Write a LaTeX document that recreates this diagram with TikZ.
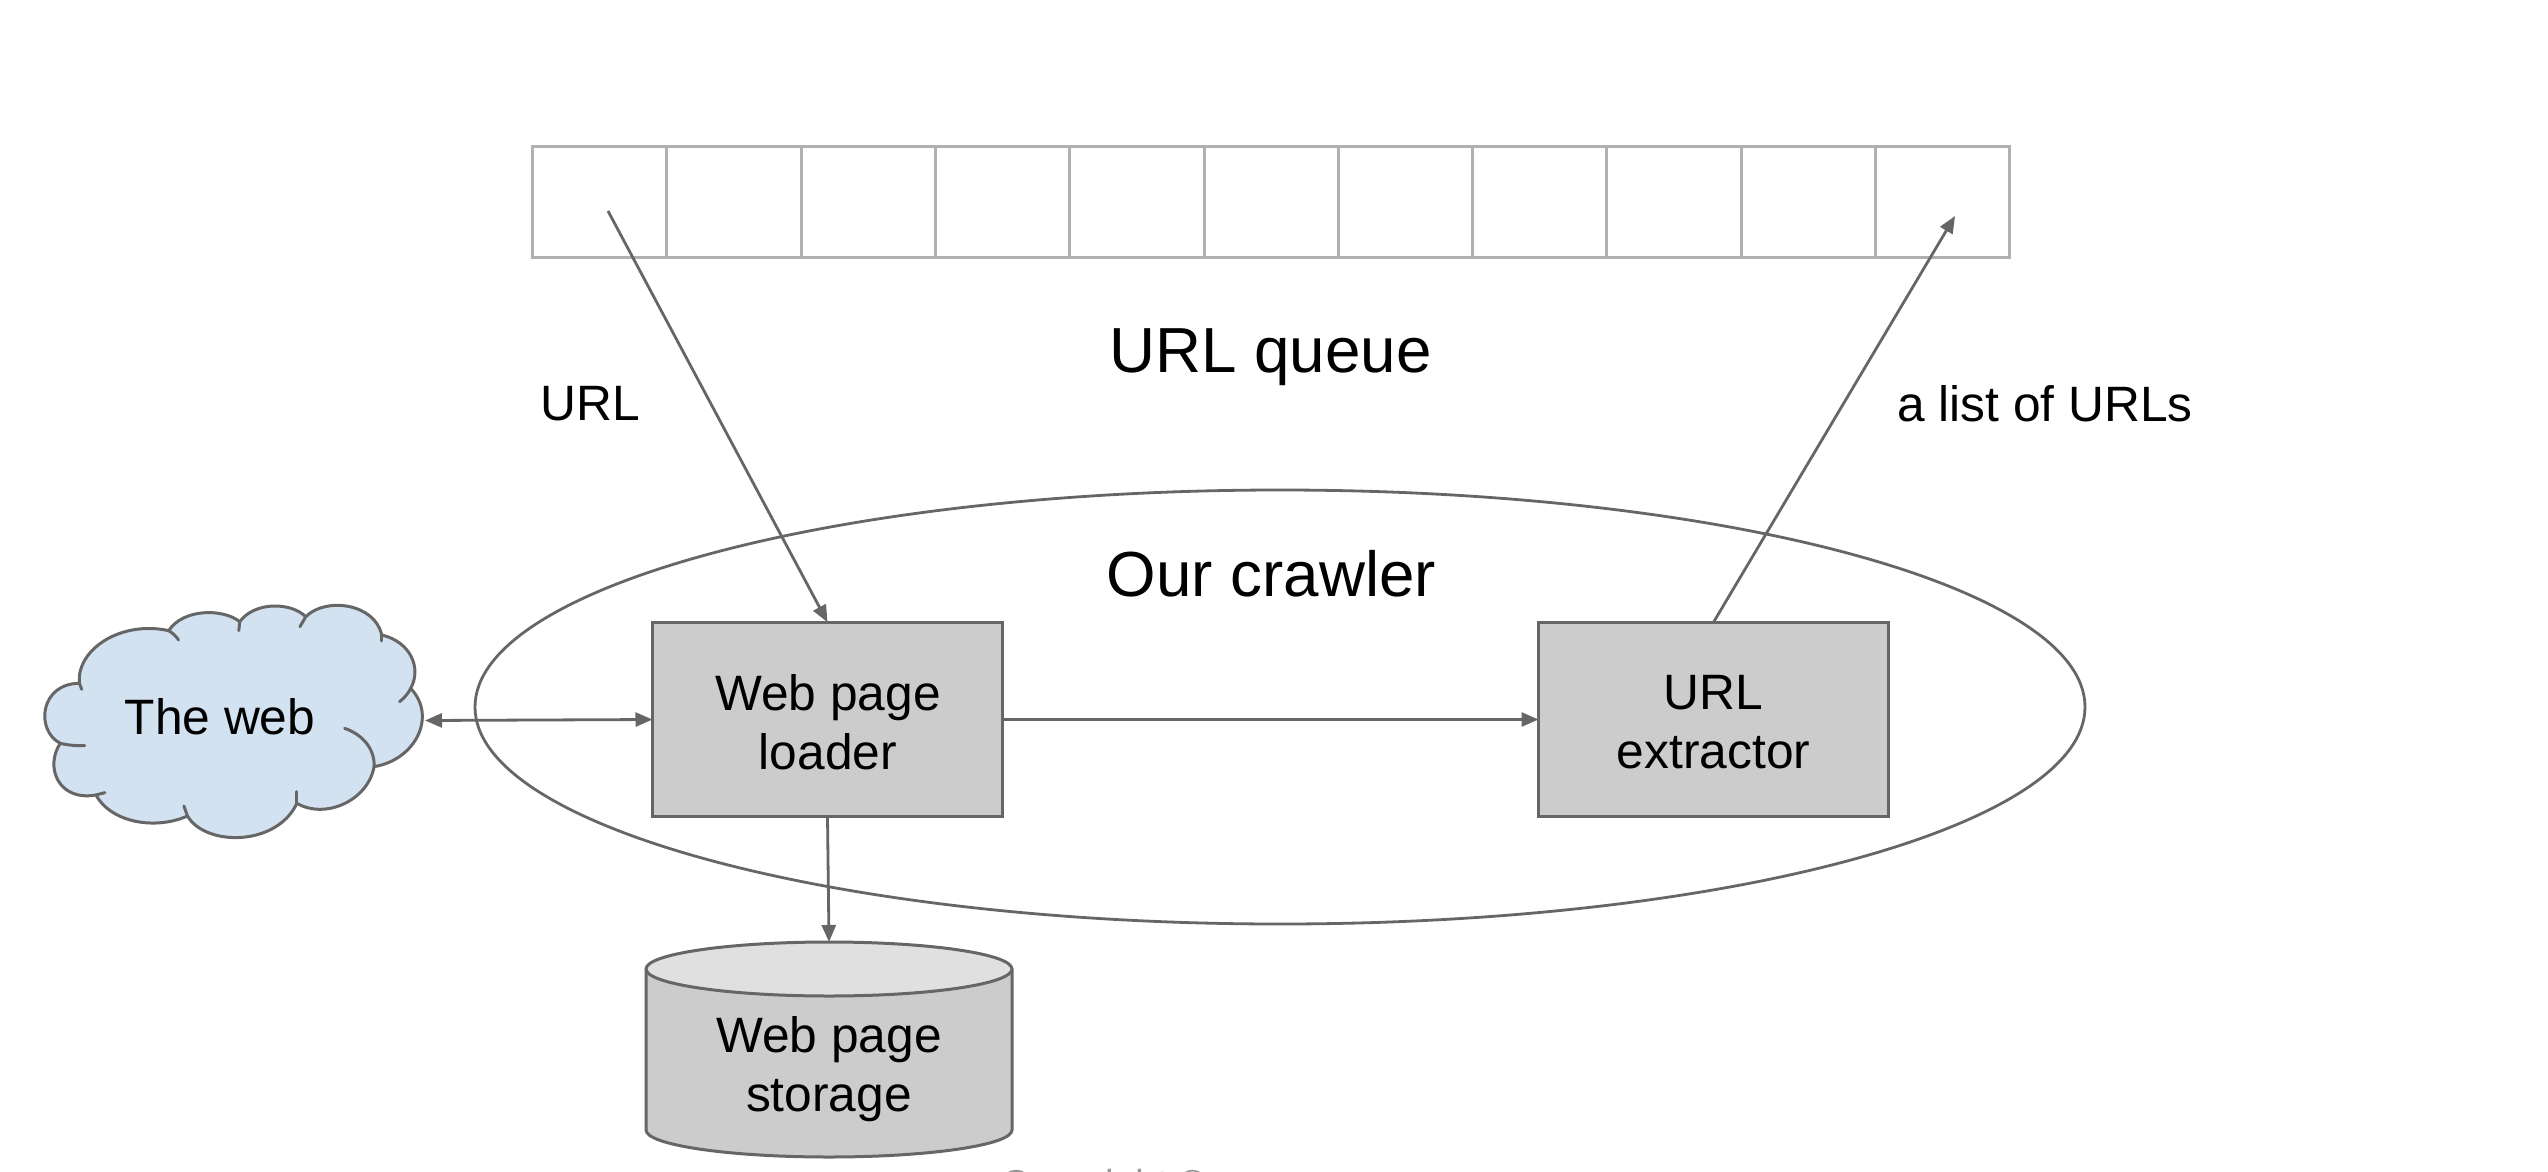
\documentclass[tikz,border=0pt]{standalone}
\usepackage{fontspec}
\setmainfont{Liberation Sans}
\usetikzlibrary{arrows.meta,shapes.geometric}
\definecolor{ln}{HTML}{666666}
\definecolor{qln}{HTML}{B0B0B0}
\definecolor{boxf}{HTML}{CCCCCC}
\definecolor{topf}{HTML}{E0E0E0}
\definecolor{cloudf}{HTML}{D2E2F1}
\definecolor{copyc}{HTML}{999999}
\tikzset{
 cellbox/.style={draw=qln,line width=3pt,minimum width=134.3pt,minimum height=111pt,inner sep=0pt,outer sep=0pt},
 procbox/.style={draw=ln,line width=2.6pt,fill=boxf,minimum width=350pt,minimum height=194.5pt,inner sep=0pt,outer sep=0pt},
 lab/.style={inner sep=0pt,align=center,font=\fontsize{49.7}{58.5}\selectfont},
 biglab/.style={inner sep=0pt,font=\fontsize{63.7}{70}\selectfont},
 conn/.style={draw=ln,line width=2.8pt,-{Triangle[length=17pt,width=14pt,fill=ln]}},
 outl/.style={draw=ln,line width=3pt,line cap=round,line join=round}
}
\begin{document}
\begin{tikzpicture}[x=1pt,y=-1pt]
\useasboundingbox (0,0) rectangle (2548,1172);
% ellipse
\node[draw=ln,line width=2.8pt,ellipse,minimum width=1610pt,minimum height=434pt,inner sep=0pt,outer sep=0pt] (crawler) at (1280,707) {};
% queue
\foreach \i in {1,...,11}{
  \node[cellbox] (cell\i) at ({532.5+134.3*(\i-0.5)},201.5) {};
}
\coordinate (qout) at (608,211);
\coordinate (qin) at (1955,216);
% boxes
\node[procbox] (loader) at (827.5,719.5) {};
\node[lab] (loadertext) at (828,722) {Web page\\loader};
\node[procbox] (extract) at (1713.5,719.5) {};
\node[lab] (extracttext) at (1713.5,722) {URL\\extractor};
% cylinder
\filldraw[outl,fill=boxf] (646,969) -- (646,1130) arc[start angle=180,end angle=0,x radius=183,y radius=27] -- (1012,969) -- cycle;
\filldraw[outl,fill=topf] (829,969) ellipse[x radius=183,y radius=27];
\coordinate (storetop) at (829,942);
\node[lab] (storage) at (829,1069) {Web page\\storage};
% cloud
\begin{scope}[shift={(0,560)},xscale=0.4464,yscale=0.3333]
 \def\cloudpath{(178,370) .. controls (170,270) and (270,180) .. (378,212)
   .. controls (410,145) and (500,145) .. (537,185)
   .. controls (570,125) and (650,125) .. (685,170)
   .. controls (730,110) and (840,130) .. (855,225)
   .. controls (920,245) and (945,325) .. (920,385)
   .. controls (980,470) and (930,600) .. (838,620)
   .. controls (825,720) and (730,780) .. (665,730)
   .. controls (620,860) and (460,860) .. (420,768)
   .. controls (350,810) and (250,790) .. (215,705)
   .. controls (130,725) and (100,620) .. (135,550)
   .. controls (78,510) and (90,370) .. (178,370)}
 \fill[cloudf] \cloudpath -- cycle;
 \draw[outl] \cloudpath;
 \draw[outl] (378,212) .. controls (388,220) and (395,230) .. (400,240);
 \draw[outl] (537,185) -- (535,212);
 \draw[outl] (685,170) -- (672,200);
 \draw[outl] (855,225) -- (855,243);
 \draw[outl] (920,385) .. controls (915,400) and (905,415) .. (895,425);
 \draw[outl] (838,620) .. controls (840,570) and (815,525) .. (772,505);
 \draw[outl] (665,730) -- (665,695);
 \draw[outl] (420,768) -- (412,738);
 \draw[outl] (215,705) -- (235,698);
 \draw[outl] (135,550) .. controls (150,555) and (170,558) .. (190,557);
 \draw[outl] (178,370) -- (183,388);
\end{scope}
\node[lab] (web) at (220,717) {The web};
\coordinate (webE) at (425,720.5);
% connectors
\draw[conn] (qout) -- (loader.north);
\draw[conn] (extract.north) -- (qin);
\draw[conn] (loader.east) -- (extract.west);
\draw[conn] (loader.south) -- (storetop);
\draw[conn,{Triangle[length=17pt,width=14pt,fill=ln]}-{Triangle[length=17pt,width=14pt,fill=ln]}] (webE) -- (loader.west);
% labels
\node[biglab] (qlabel) at (1270.5,357) {URL queue};
\node[biglab] (clabel) at (1271.5,574) {Our crawler};
\node[lab] (urll) at (590,404) {URL};
\node[lab] (listl) at (2045,404) {a list of URLs};
\node[inner sep=0pt,text=copyc,font=\fontsize{39}{44}\selectfont,anchor=base west] (copy) at (1001,1197) {Copyright ©};
\end{tikzpicture}
\end{document}
